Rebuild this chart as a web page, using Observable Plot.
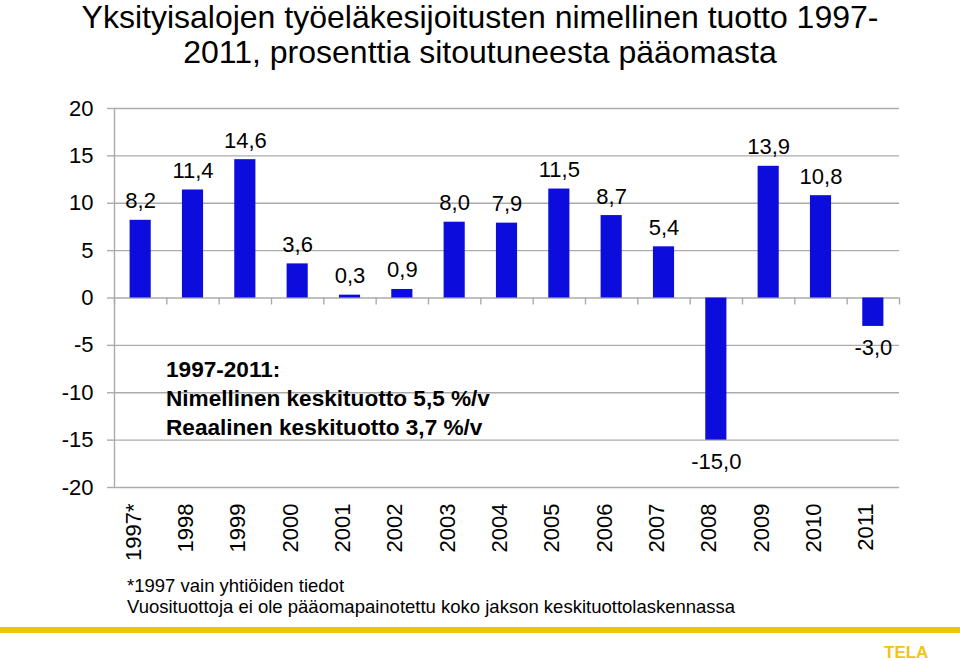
<!DOCTYPE html>
<html>
<head>
<meta charset="utf-8">
<script src="https://cdn.jsdelivr.net/npm/d3@7"></script>
<script src="https://cdn.jsdelivr.net/npm/@observablehq/plot@0.6"></script>
<style>
  html, body { margin: 0; padding: 0; background: #fff; }
  body { width: 960px; height: 661px; position: relative; overflow: hidden;
         font-family: "Liberation Sans", Arial, sans-serif; color: #000; }
  #title { position: absolute; top: 0; left: 0; width: 960px; text-align: center;
           font-size: 32px; line-height: 35px; }
  #chart { position: absolute; top: 90px; left: 0; }
  #note { position: absolute; left: 166px; top: 355px; font-weight: bold;
          font-size: 22.6px; line-height: 29px; white-space: nowrap; }
  #footer { position: absolute; left: 127px; top: 575px; font-size: 18.5px; line-height: 21px; white-space: nowrap; }
  #band { position: absolute; left: 0; top: 627px; width: 960px; height: 6px; background: #f4c20d; }
  #tela { position: absolute; left: 884px; top: 644px; font-size: 17px; line-height: 17px;
          font-weight: bold; color: #f2c318; }
</style>
</head>
<body>
<div id="title">Yksityisalojen työeläkesijoitusten nimellinen tuotto 1997-<br>2011, prosenttia sitoutuneesta pääomasta</div>
<div id="chart"></div>
<div id="note">1997-2011:<br>Nimellinen keskituotto 5,5 %/v<br>Reaalinen keskituotto 3,7 %/v</div>
<div id="footer">*1997 vain yhtiöiden tiedot<br>Vuosituottoja ei ole pääomapainotettu koko jakson keskituottolaskennassa</div>
<div id="band"></div>
<div id="tela">TELA</div>
<script>
const years = ["1997*", "1998", "1999", "2000", "2001", "2002", "2003", "2004", "2005", "2006", "2007", "2008", "2009", "2010", "2011"];
const values = [8.2, 11.4, 14.6, 3.6, 0.3, 0.9, 8.0, 7.9, 11.5, 8.7, 5.4, -15.0, 13.9, 10.8, -3.0];
const yTicks = [-20, -15, -10, -5, 0, 5, 10, 15, 20];

const data = years.map((year, i) => ({i, year, value: values[i]}));
const boundaries = d3.range(years.length + 1);
const fmt = d => d.value.toFixed(1).replace(".", ",");
const grid = "#ababab";
const font = 22;

const chart = Plot.plot({
  width: 960,
  height: 470,
  marginTop: 18,
  marginRight: 61,
  marginBottom: 73,
  marginLeft: 114,
  x: {type: "linear", domain: [0, years.length], axis: null},
  y: {domain: [yTicks[0], yTicks[yTicks.length - 1]], axis: null},
  style: {fontFamily: "'Liberation Sans', Arial, sans-serif", background: "transparent", color: "#000", overflow: "visible"},
  marks: [
    Plot.ruleY(yTicks, {stroke: grid, strokeWidth: 1.4}),
    Plot.ruleY(yTicks, {x1: 0, x2: 0, insetLeft: -7, stroke: grid, strokeWidth: 1.4}),
    Plot.ruleX([0], {y1: yTicks[0], y2: yTicks[yTicks.length - 1], stroke: grid, strokeWidth: 1.4}),
    Plot.ruleX(boundaries, {y1: 0, y2: 0, insetBottom: -7, stroke: grid, strokeWidth: 1.4}),
    Plot.rectY(data, {x1: "i", x2: d => d.i + 1, y1: 0, y2: "value", fill: "#0c0cdc", insetLeft: 15.6, insetRight: 15.6}),
    Plot.text(data.filter(d => d.value >= 0), {x: d => d.i + 0.5, y: "value", text: fmt, lineAnchor: "bottom", dy: -12, fontSize: font, fill: "#000"}),
    Plot.text(data.filter(d => d.value < 0), {x: d => d.i + 0.5, y: "value", text: fmt, lineAnchor: "top", dy: 13, fontSize: font, fill: "#000"}),
    Plot.text(yTicks, {x: 0, y: d => d, text: d => String(d), textAnchor: "end", dx: -21, fontSize: font, fill: "#000"}),
    Plot.text(data, {x: d => d.i + 0.5, frameAnchor: "bottom", text: "year", rotate: -90, textAnchor: "end", dy: 16, fontSize: font, fill: "#000"})
  ]
});
document.getElementById("chart").appendChild(chart);
</script>
</body>
</html>
